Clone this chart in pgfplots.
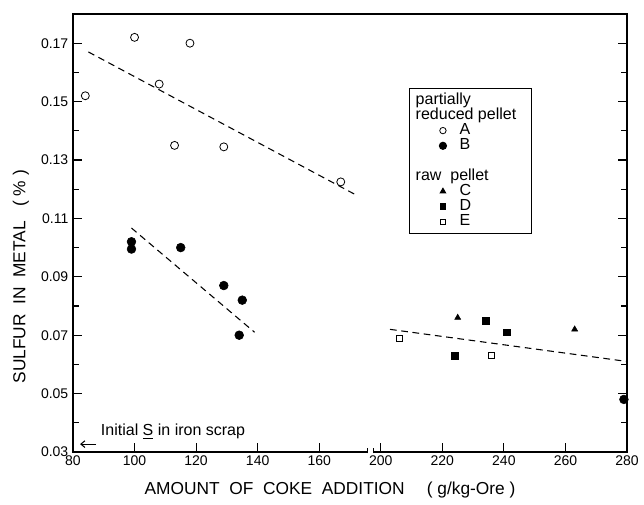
\documentclass[border=0pt]{standalone}
\usepackage{pgfplots}
\pgfplotsset{compat=1.18}
\usepackage{fontspec}
\setmainfont{Liberation Sans}
\usetikzlibrary{arrows.meta}

% raw readings, x in g/kg-Ore (axis is broken between 180 and 200)
\pgfplotstableread{
x y
84 0.152
100 0.172
118 0.170
108 0.156
113 0.135
129 0.1345
167 0.1225
}\tabA
\pgfplotstableread{
x y
99 0.102
99 0.0995
115 0.100
129 0.087
135 0.082
134 0.070
279 0.048
}\tabB
\pgfplotstableread{
x y
225 0.076
263 0.072
}\tabC
\pgfplotstableread{
x y
234 0.075
241 0.071
224 0.063
}\tabD
\pgfplotstableread{
x y
206 0.069
236 0.063
}\tabE

\begin{document}
\begin{tikzpicture}
\begin{axis}[
  scale only axis, width=415.5pt, height=328.5pt,
  xmin=80, xmax=280, ymin=0.03, ymax=0.18,
  x coord trafo/.code={\pgfmathparse{#1-20*(#1>190)}},
  xtick={80,100,120,140,160,200,220,240,260,280},
  xticklabels={80,100,120,140,160,200,220,240,260,280},
  ytick={0.03,0.05,0.07,0.09,0.11,0.13,0.15,0.17},
  yticklabels={0.03,0.05,0.07,0.09,0.11,0.13,0.15,0.17},
  minor ytick={0.04,0.06,0.08,0.10,0.12,0.14,0.16,0.18},
  xtick pos=bottom, ytick pos=both,
  tick align=inside,
  major tick length=6.5pt, minor tick length=4.5pt,
  tick style={line width=0.8pt, black},
  axis line style={line width=1pt},
  ticklabel style={font=\fontsize{10.5}{12}\selectfont},
  xticklabel style={yshift=1pt},
  xlabel={AMOUNT\ \ OF\ \ COKE\ \ ADDITION\quad\ ( g/kg-Ore )},
  ylabel={SULFUR\ \ IN\ \ METAL\ \ \ ( \% )},
  label style={font=\fontsize{13}{15}\selectfont},
  xlabel style={at={(axis description cs:0.464,-0.087)}, anchor=center},
  ylabel style={at={(axis description cs:-0.094,0.40)}, anchor=center},
  clip=false,
  legend cell align=left,
  legend image code/.code={\path[draw=none] (0pt,-3pt) rectangle (34pt,3pt); \draw[#1] plot coordinates {(22pt,0pt)};},
  legend style={at={(rel axis cs:0.6065,0.831)}, anchor=north west,
    draw=black, line width=0.9pt, font=\fontsize{12}{12}\selectfont, row sep=0pt,
    inner xsep=3pt, inner ysep=3pt,
    nodes={inner sep=0.6pt, text height=8.1pt, text depth=2.1pt}},
]
\addlegendimage{empty legend}\addlegendentry{\hspace*{-33pt}partially}
\addlegendimage{empty legend}\addlegendentry{\hspace*{-33pt}reduced\ pellet\hspace*{8pt}}
\addlegendimage{only marks, mark=o, mark size=2.4pt, black, line width=0.6pt}\addlegendentry{A}
\addlegendimage{only marks, mark=*, mark size=2.6pt, black}\addlegendentry{B}
\addlegendimage{empty legend}\addlegendentry{}
\addlegendimage{empty legend}\addlegendentry{\hspace*{-33pt}raw\ \ pellet}
\addlegendimage{only marks, mark=triangle*, mark size=2.2pt, black}\addlegendentry{C}
\addlegendimage{only marks, mark=square*, mark size=2pt, black}\addlegendentry{D}
\addlegendimage{only marks, mark=square, mark size=1.8pt, black, line width=0.5pt}\addlegendentry{E}

\addplot[forget plot, only marks, mark=o, mark size=3pt, line width=0.6pt] table {\tabA};
\addplot[forget plot, only marks, mark=*, mark size=3.3pt] table {\tabB};
\addplot[forget plot, only marks, mark=triangle*, mark size=2.6pt] table {\tabC};
\addplot[forget plot, only marks, mark=square*, mark size=2.6pt] table {\tabD};
\addplot[forget plot, only marks, mark=square, mark size=2.3pt, line width=0.6pt] table {\tabE};

\addplot[forget plot, line width=0.8pt, dash pattern=on 5pt off 3.5pt] coordinates {(85,0.167) (172,0.118)};
\addplot[forget plot, line width=0.8pt, dash pattern=on 5pt off 3.5pt] coordinates {(99,0.1067) (139,0.071)};
\addplot[forget plot, line width=0.8pt, dash pattern=on 5pt off 3.5pt] coordinates {(203,0.072) (280,0.061)};

% axis break marker
\fill[white] (axis cs:175.6,0.0295) rectangle (axis cs:177.6,0.0305);
\draw[line width=0.7pt] (axis cs:175.6,0.0295) -- (axis cs:175.6,0.0315);
\draw[line width=0.7pt] (axis cs:177.6,0.0295) -- (axis cs:177.6,0.0315);

\node[anchor=west, font=\fontsize{12}{14}\selectfont, inner sep=0pt] at (axis cs:89,0.0369) {Initial \underline{S} in iron scrap};
\draw[-{Straight Barb[length=3pt,width=5pt]}, line width=0.8pt] (axis cs:87.5,0.0327) -- (axis cs:82.3,0.0327);
\end{axis}
\pgfresetboundingbox
\path (-54.75pt,-39.75pt) rectangle (428.25pt,339pt);
\end{tikzpicture}
\end{document}
